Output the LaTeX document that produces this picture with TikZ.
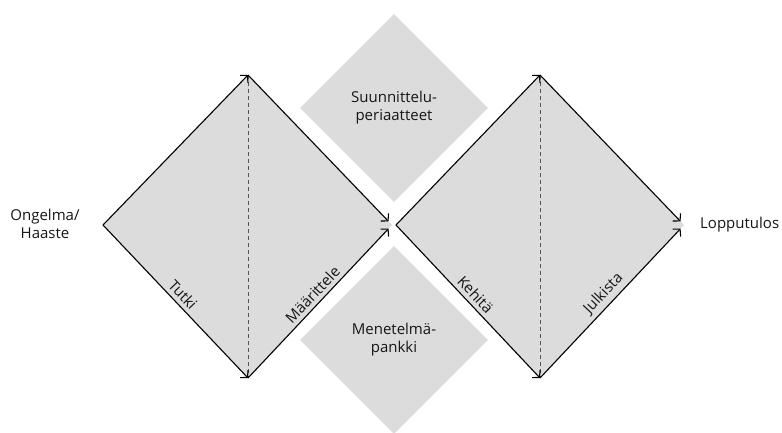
\documentclass[tikz,border=0pt]{standalone}
\usepackage{fontspec}
\setmainfont{Open Sans}
\usetikzlibrary{arrows.meta,shapes.geometric}
\definecolor{boxgray}{HTML}{DCDCDC}
\definecolor{dashgray}{HTML}{555555}
\definecolor{inkgray}{HTML}{161616}

\begin{document}
\begin{tikzpicture}[x=1pt,y=-1pt,
  flow/.style={line width=1.1pt,draw=black,-{Straight Barb[length=5pt,width=11pt]}},
  mid/.style={draw=dashgray,line width=0.6pt,dash pattern=on 4pt off 3pt},
  tag/.style={midway,sloped,above,inner sep=4pt},
  side/.style={diamond,fill=boxgray,minimum size=188pt,inner sep=0pt,align=center},
  every node/.style={text=inkgray,font=\fontsize{15}{18}\selectfont}]
  \useasboundingbox (0,0) rectangle (782,432);
  % left diamond
  \coordinate (L-1) at (103,225);
  \coordinate (T-1) at (248,75);
  \coordinate (R-1) at (392,225);
  \coordinate (B-1) at (248,378);
  % right diamond
  \coordinate (L-2) at (396,225);
  \coordinate (T-2) at (540,75);
  \coordinate (R-2) at (684,225);
  \coordinate (B-2) at (540,378);
  \fill[boxgray] (L-1) -- (T-1) -- (R-1) -- (B-1) -- cycle;
  \fill[boxgray] (L-2) -- (T-2) -- (R-2) -- (B-2) -- cycle;
  \node[side] (S-1) at (394,108) {Suunnittelu-\\periaatteet};
  \node[side] (S-2) at (394,340) {Menetelmä-\\pankki};
  \draw[mid] (T-1) -- (B-1);
  \draw[mid] (T-2) -- (B-2);
  \draw[flow] (L-1) -- (T-1);
  \draw[flow,shorten >=5pt] (T-1) -- (R-1);
  \draw[flow] (L-1) -- node[tag] {Tutki} (B-1);
  \draw[flow,shorten >=5pt] (B-1) -- node[tag] {Määrittele} (R-1);
  \draw[flow] (L-2) -- (T-2);
  \draw[flow,shorten >=5pt] (T-2) -- (R-2);
  \draw[flow] (L-2) -- node[tag] {Kehitä} (B-2);
  \draw[flow,shorten >=5pt] (B-2) -- node[tag] {Julkista} (R-2);
  \node[align=center] (In) at (45,224) {Ongelma/\\Haaste};
  \node[anchor=west,inner sep=0pt] (Out) at (700,225) {Lopputulos};
\end{tikzpicture}
\end{document}
